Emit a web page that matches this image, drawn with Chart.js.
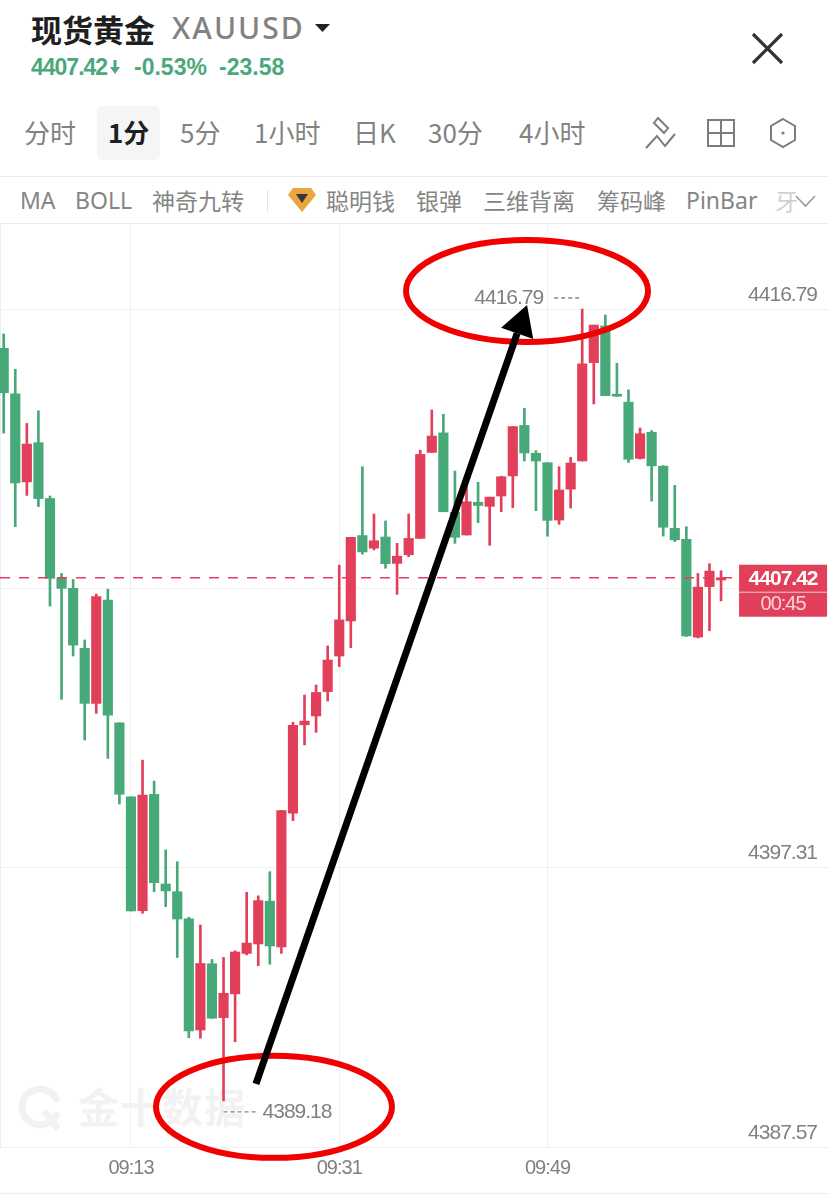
<!DOCTYPE html>
<html lang="zh">
<head>
<meta charset="utf-8">
<title>现货黄金 XAUUSD</title>
<script src="https://cdn.jsdelivr.net/npm/chart.js@4"></script>
<style>
    html, body { margin: 0; padding: 0; background: #fff; }
    #page { position: relative; width: 829px; height: 1203px; overflow: hidden; font-family: "Noto Sans CJK SC", "Noto Sans", sans-serif; }
    #page span { position: absolute; white-space: nowrap; line-height: 1; }
    #page svg { position: absolute; }
    .tab { font-size: 26px; top: 119px; color: #828282; }
    .tool { font-size: 23px; top: 189px; color: #858585; }
    .quote { font-family: "Liberation Sans", sans-serif; font-weight: 700; font-size: 23px; top: 56px; color: #4aa97c; }
    .rule { position: absolute; left: 0; width: 829px; height: 1px; background: #ececec; }
    #chartCanvas { position: absolute; left: 0; top: 224px; }
</style>
</head>
<body>
<div id="page">
    <span style="left:31px;top:13px;font-size:31px;font-weight:700;color:#1f1f1f">现货黄金</span>
    <span style="left:172px;top:13px;font-size:30px;font-family:'Noto Sans';font-weight:500;letter-spacing:2px;color:#828282">XAUUSD</span>
    <svg style="left:315px;top:24px" width="16" height="9"><path d="M0 0H15L7.5 8Z" fill="#222"/></svg>
    <svg style="left:750px;top:32px" width="36" height="33"><path d="M3 2L32 31M32 2L3 31" stroke="#333" stroke-width="3.2" fill="none"/></svg>

    <span class="quote" style="left:31px;letter-spacing:-1px">4407.42</span>
    <svg style="left:109px;top:60px" width="12" height="15"><path d="M4.5 0H7.5V7H11L6 14L1 7H4.5Z" fill="#4aa97c"/></svg>
    <span class="quote" style="left:134px">-0.53%</span>
    <span class="quote" style="left:219px">-23.58</span>

    <div style="position:absolute;left:97px;top:106px;width:63px;height:54px;background:#f5f5f5;border-radius:5px"></div>
    <span class="tab" style="left:24px">分时</span>
    <span class="tab" style="left:108px;color:#1f1f1f;font-weight:700">1分</span>
    <span class="tab" style="left:180px">5分</span>
    <span class="tab" style="left:254px">1小时</span>
    <span class="tab" style="left:353px">日K</span>
    <span class="tab" style="left:428px">30分</span>
    <span class="tab" style="left:519px">4小时</span>
    <svg style="left:644px;top:116px" width="33" height="34" fill="none" stroke="#7c7c7c" stroke-width="2"><path d="M14 2L24 12L20 17L10 7Z"/><path d="M2 32L13 20L21 30L31 18"/></svg>
    <svg style="left:706px;top:118px" width="30" height="30" fill="none" stroke="#7c7c7c" stroke-width="2"><path d="M2 2H28V28H2ZM15 2V28M2 15H28"/></svg>
    <svg style="left:769px;top:117px" width="28" height="32" fill="none" stroke="#7c7c7c" stroke-width="2"><path d="M14 2L26 9V23L14 30L2 23V9Z"/><circle cx="14" cy="16" r="1.6" fill="#7c7c7c" stroke="none"/></svg>

    <div class="rule" style="top:176px"></div>
    <span class="tool" style="left:20px;font-family:'Noto Sans'">MA</span>
    <span class="tool" style="left:75px;font-family:'Noto Sans'">BOLL</span>
    <span class="tool" style="left:152px">神奇九转</span>
    <div style="position:absolute;left:267px;top:190px;width:1px;height:22px;background:#e4e4e4"></div>
    <svg style="left:288px;top:187px" width="28" height="26"><path d="M5 1H23L28 8L14 25L0 8Z" fill="#e8a63c"/><path d="M8 7H20L14 16Z" fill="#3a3340"/></svg>
    <span class="tool" style="left:326px">聪明钱</span>
    <span class="tool" style="left:416px">银弹</span>
    <span class="tool" style="left:483px">三维背离</span>
    <span class="tool" style="left:597px">筹码峰</span>
    <span class="tool" style="left:686px;font-family:'Noto Sans'">PinBar</span>
    <span class="tool" style="left:775px;color:#d0d0d0">牙</span>
    <svg style="left:795px;top:195px" width="21" height="13" fill="none" stroke="#9a9a9a" stroke-width="1.6"><path d="M1 1L10.5 11L20 1"/></svg>
    <div class="rule" style="top:223px"></div>
    <div class="rule" style="top:1193px"></div>
    <div style="position:absolute;left:0;top:224px;width:1px;height:923px;background:#ececec"></div>

    <canvas id="chartCanvas" width="829" height="968"></canvas>
</div>
<script>
const opens = [
    4415.42, 4413.83, 4410.76, 4412.13, 4410.18, 4407.40, 4407.05, 4404.96, 4403.04, 4406.64,
    4402.36, 4399.78, 4395.81, 4399.87, 4396.74, 4396.47, 4395.53, 4391.65, 4393.96, 4392.08,
    4392.91, 4394.32, 4394.65, 4396.14, 4394.55, 4399.21, 4402.29, 4402.60, 4403.45, 4404.69,
    4405.91, 4408.89, 4408.45, 4408.84, 4407.92, 4408.22, 4408.79, 4411.79, 4412.47, 4409.70,
    4408.91, 4410.05, 4409.91, 4410.27, 4410.97, 4412.73, 4411.76, 4411.43, 4409.43, 4410.51,
    4411.49, 4414.92, 4416.20, 4413.77, 4413.54, 4411.58, 4412.49, 4411.31, 4409.14, 4408.76,
    4405.35, 4407.11, 4407.34
];
const closes = [
    4413.87, 4410.73, 4412.08, 4410.18, 4407.40, 4407.05, 4405.07, 4403.04, 4406.76, 4402.63,
    4399.87, 4395.80, 4399.84, 4396.79, 4396.50, 4395.52, 4391.62, 4393.97, 4392.06, 4392.93,
    4394.37, 4394.68, 4396.16, 4394.58, 4399.30, 4402.27, 4402.42, 4403.42, 4404.55, 4405.95,
    4408.83, 4408.32, 4408.71, 4407.91, 4408.17, 4408.79, 4411.72, 4412.36, 4409.72, 4408.83,
    4410.07, 4409.94, 4410.23, 4410.94, 4412.69, 4411.77, 4411.49, 4409.42, 4410.48, 4411.42,
    4414.88, 4416.23, 4413.77, 4413.75, 4411.55, 4412.44, 4411.32, 4409.18, 4408.74, 4405.39,
    4407.09, 4407.65, 4407.42
];
const highs = [
    4415.92, 4414.69, 4412.80, 4413.24, 4410.27, 4407.57, 4407.36, 4405.25, 4406.85, 4407.02,
    4402.36, 4399.78, 4401.06, 4400.33, 4397.93, 4397.52, 4395.58, 4395.31, 4394.11, 4394.18,
    4394.41, 4396.45, 4396.33, 4397.17, 4399.31, 4402.38, 4403.33, 4403.68, 4405.04, 4407.86,
    4408.83, 4411.29, 4409.64, 4409.40, 4408.62, 4409.64, 4411.87, 4413.27, 4413.12, 4411.14,
    4410.83, 4410.75, 4410.23, 4410.96, 4412.69, 4413.33, 4411.85, 4411.43, 4411.29, 4411.62,
    4416.79, 4416.23, 4416.58, 4414.90, 4413.97, 4412.64, 4412.55, 4411.33, 4410.64, 4409.20,
    4407.57, 4407.91, 4407.66
];
const lows = [
    4412.46, 4409.20, 4410.29, 4409.90, 4406.43, 4403.18, 4404.69, 4401.76, 4402.69, 4401.12,
    4399.53, 4395.80, 4395.72, 4396.47, 4395.95, 4394.18, 4391.38, 4391.36, 4392.06, 4389.18,
    4391.24, 4394.27, 4393.89, 4393.94, 4394.32, 4398.95, 4401.59, 4402.03, 4403.12, 4404.32,
    4404.98, 4408.24, 4408.39, 4407.75, 4406.84, 4408.15, 4408.79, 4411.79, 4409.72, 4408.62,
    4408.91, 4409.34, 4408.55, 4409.72, 4409.86, 4411.49, 4409.76, 4408.87, 4409.28, 4409.85,
    4411.49, 4413.48, 4413.77, 4413.74, 4411.44, 4411.56, 4410.09, 4408.87, 4408.68, 4405.37,
    4405.32, 4405.57, 4406.61
];
const timeLabels = ['09:13', '09:31', '09:49'];
const timeIndexes = [11, 29, 47];
const priceTicks = [4387.57, 4397.31, 4407.05, 4416.79];
const countdown = '00:45';

const upColor = '#e2405a';
const downColor = '#47a878';
const textGrey = '#808080';
const numberFont = '"Liberation Sans", sans-serif';

const candleColors = opens.map((open, i) => closes[i] >= open ? upColor : downColor);

// hand drawn marks and the app's overlays, all hung off the scales
const overlayPlugin = {
    id: 'overlay',
    beforeDraw(chart) {
        // no narrow font installed, so tighten the numbers
        chart.ctx.letterSpacing = '-1px';
    },
    beforeDatasetsDraw(chart) {
        const ctx = chart.ctx;
        ctx.save();
        ctx.fillStyle = '#f2f2f2';
        ctx.strokeStyle = '#f2f2f2';
        ctx.lineWidth = 7;
        ctx.beginPath();
        ctx.arc(40, 883, 18, 0.3, Math.PI * 2 - 0.3);
        ctx.moveTo(44, 887);
        ctx.lineTo(58, 905);
        ctx.stroke();
        ctx.letterSpacing = '1px';
        ctx.font = '700 41px "Noto Sans CJK SC"';
        ctx.textBaseline = 'middle';
        ctx.fillText('金十数据', 78, 883);
        ctx.restore();
    },
    afterDatasetsDraw(chart) {
        const ctx = chart.ctx;
        const x = chart.scales.x;
        const y = chart.scales.y;
        const last = closes[closes.length - 1];
        const lastY = y.getPixelForValue(last);
        const lastX = x.getPixelForValue(closes.length - 1);
        const boxX = lastX + 18;
        ctx.save();

        // current price line and box
        ctx.strokeStyle = upColor;
        ctx.lineWidth = 1.6;
        ctx.setLineDash([10, 9]);
        ctx.beginPath();
        ctx.moveTo(0, lastY);
        ctx.lineTo(boxX, lastY);
        ctx.stroke();
        ctx.setLineDash([]);
        ctx.fillStyle = upColor;
        ctx.fillRect(boxX, lastY - 13, 88, 52);
        ctx.fillStyle = '#f6c9d0';
        ctx.fillRect(boxX, lastY + 14, 88, 1);
        ctx.textAlign = 'center';
        ctx.textBaseline = 'middle';
        ctx.fillStyle = '#fff';
        ctx.font = '700 21px ' + numberFont;
        ctx.fillText(last.toFixed(2), boxX + 44, lastY + 1);
        ctx.fillStyle = '#f8d3d9';
        ctx.font = '400 20px ' + numberFont;
        ctx.fillText(countdown, boxX + 44, lastY + 27);

        // highest and lowest labels
        const maxHigh = Math.max(...highs);
        const minLow = Math.min(...lows);
        const highX = x.getPixelForValue(highs.indexOf(maxHigh));
        const lowX = x.getPixelForValue(lows.indexOf(minLow));
        const highY = y.getPixelForValue(maxHigh) - 11;
        const lowY = y.getPixelForValue(minLow) + 11;
        ctx.strokeStyle = '#858585';
        ctx.lineWidth = 1.3;
        ctx.setLineDash([4, 3]);
        ctx.beginPath();
        ctx.moveTo(highX - 3, highY);
        ctx.lineTo(highX - 31, highY);
        ctx.moveTo(lowX, lowY);
        ctx.lineTo(lowX + 35, lowY);
        ctx.stroke();
        ctx.setLineDash([]);
        ctx.fillStyle = textGrey;
        ctx.font = '400 21px ' + numberFont;
        ctx.textAlign = 'right';
        ctx.fillText(maxHigh.toFixed(2), highX - 39, highY);
        ctx.textAlign = 'left';
        ctx.fillText(minLow.toFixed(2), lowX + 39, lowY);

        // red rings
        ctx.strokeStyle = '#f00000';
        ctx.lineWidth = 6;
        ctx.beginPath();
        ctx.ellipse(x.getPixelForValue(45.23), y.getPixelForValue(4417.42), 121, 51, 0, 0, Math.PI * 2);
        ctx.stroke();
        ctx.beginPath();
        ctx.ellipse(x.getPixelForValue(23.36), y.getPixelForValue(4388.97), 118, 51, 0, 0, Math.PI * 2);
        ctx.stroke();

        // black arrow
        const fromX = x.getPixelForValue(21.8);
        const fromY = y.getPixelForValue(4389.77);
        const tipX = x.getPixelForValue(45.23);
        const tipY = y.getPixelForValue(4416.93);
        const angle = Math.atan2(tipY - fromY, tipX - fromX);
        const neckX = tipX - Math.cos(angle) * 30;
        const neckY = tipY - Math.sin(angle) * 30;
        ctx.strokeStyle = '#000';
        ctx.fillStyle = '#000';
        ctx.lineWidth = 7;
        ctx.beginPath();
        ctx.moveTo(fromX, fromY);
        ctx.lineTo(neckX, neckY);
        ctx.stroke();
        ctx.beginPath();
        ctx.moveTo(tipX, tipY);
        ctx.lineTo(neckX + Math.sin(angle) * 17, neckY - Math.cos(angle) * 17);
        ctx.lineTo(neckX - Math.sin(angle) * 17, neckY + Math.cos(angle) * 17);
        ctx.closePath();
        ctx.fill();
        ctx.restore();
    }
};

new Chart(document.getElementById('chartCanvas'), {
    type: 'bar',
    data: {
        datasets: [
            {
                label: 'Wick',
                data: highs.map((high, i) => ({ x: i, y: [lows[i], high] })),
                backgroundColor: candleColors,
                barThickness: 2,
                grouped: false,
                order: 2
            },
            {
                label: 'Body',
                data: opens.map((open, i) => ({ x: i, y: [open, closes[i]] })),
                backgroundColor: candleColors,
                barThickness: 9.5,
                minBarLength: 2,
                grouped: false,
                order: 1
            }
        ]
    },
    options: {
        responsive: false,
        animation: false,
        layout: { padding: 0 },
        plugins: {
            legend: { display: false },
            tooltip: { enabled: false }
        },
        scales: {
            x: {
                type: 'linear',
                offset: false,
                min: -0.32,
                max: 71.33,
                afterBuildTicks: (scale) => {
                    scale.ticks = timeIndexes.map((value) => ({ value }));
                },
                afterFit: (scale) => {
                    scale.height = 45;
                    scale.paddingLeft = 0;
                    scale.paddingRight = 0;
                },
                border: { display: false },
                grid: { offset: false, color: '#f0f0f0', lineWidth: 1, drawTicks: false },
                ticks: {
                    autoSkip: false,
                    maxRotation: 0,
                    padding: 9,
                    color: textGrey,
                    font: { family: numberFont, size: 20 },
                    callback: (value) => timeLabels[timeIndexes.indexOf(value)]
                }
            },
            y: {
                position: 'right',
                min: 4387.57,
                max: 4419.754,
                afterBuildTicks: (scale) => {
                    scale.ticks = priceTicks.map((value) => ({ value }));
                },
                afterFit: (scale) => {
                    scale.width = 0;
                    scale.paddingTop = 0;
                    scale.paddingBottom = 0;
                },
                border: { display: false },
                grid: { color: '#f0f0f0', lineWidth: 1, drawTicks: false },
                ticks: {
                    mirror: true,
                    padding: -12,
                    labelOffset: -14,
                    color: textGrey,
                    font: { family: numberFont, size: 21 },
                    callback: (value) => value.toFixed(2)
                }
            }
        }
    },
    plugins: [overlayPlugin]
});
</script>
</body>
</html>
